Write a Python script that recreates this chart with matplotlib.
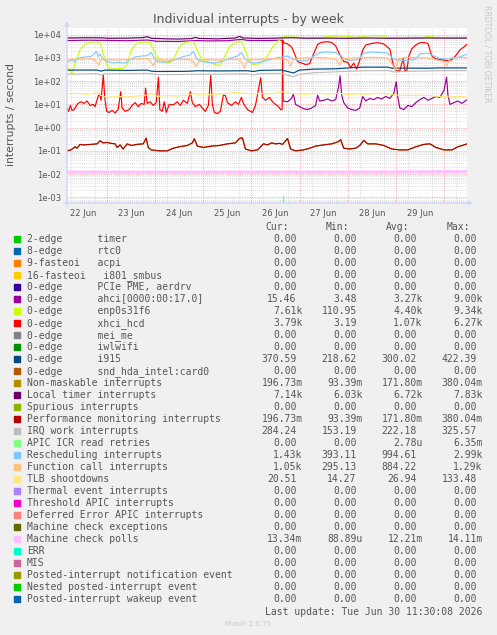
import numpy as np
import pandas as pd
import matplotlib
matplotlib.use("Agg")
import matplotlib.pyplot as plt
import matplotlib.dates as mdates
from matplotlib.patches import Rectangle
from matplotlib.ticker import LogLocator, FuncFormatter, NullFormatter

# time axis: hours after 2026-06-22 04:00
start = pd.Timestamp("2026-06-22 04:00")
end = pd.Timestamp("2026-06-30 11:30")

# ---- series (hour offset, value) ----
ahci_h = [0, 10, 20, 30, 40, 45, 55, 65, 70, 80, 87, 90, 100, 106, 107.4,
          107.8, 110, 112, 112.9, 114, 116, 118, 120, 122, 124, 125, 126, 128, 130, 132, 134,
          135.5, 136.2, 137, 138, 140, 142, 144, 146, 147.5, 149, 151, 153, 155, 157, 159, 161,
          163, 164.2, 165, 166, 168, 170, 172, 174, 176, 178, 180, 182, 184, 186, 188, 189.3,
          190, 191, 193, 195, 197, 199.3]
ahci_v = [5600, 5800, 5700, 5500, 5900, 5200, 5100, 5600, 5400, 5500, 6300, 5700, 5600, 5800, 5800,
          14, 13, 18, 28, 10, 8, 6.5, 6, 7, 9, 25, 14, 15, 17, 14, 16,
          60, 170, 25, 12, 7, 6, 5.5, 7, 22, 14, 18, 16, 20, 17, 22, 18,
          30, 95, 20, 7, 6, 9, 8, 12, 16, 20, 15, 18, 22, 20, 40, 150,
          25, 10, 12, 14, 11, 15.46]

enp_h = [0, 1.5, 2.5, 4, 6.5, 9, 12, 15, 16.5, 18, 19.8, 21.5, 25, 28, 30, 32, 34.7, 38, 41.4,
         43, 44.7, 48, 51, 53, 55, 57, 60, 63, 65, 67, 70, 74, 76, 78, 81, 84, 87, 89, 91, 93,
         96, 99, 101, 103, 105, 107, 109, 111, 113, 116, 120, 124, 128, 132, 136, 140, 143,
         146, 149, 153, 157, 160, 166, 172, 178, 181, 184, 190, 196, 199.3]
enp_v = [420, 300, 200, 600, 2200, 4000, 4700, 5000, 4400, 1600, 500, 330, 340, 360, 500, 2200,
         4300, 4900, 4600, 2400, 1100, 700, 620, 800, 2000, 3900, 4800, 5100, 2100, 900, 700,
         520, 450, 900, 3000, 4700, 5300, 2000, 700, 520, 560, 900, 1800, 3300, 5000, 7000,
         8700, 9300, 8000, 7400, 7300, 7500, 7600, 8700, 8900, 8600, 7600, 7800, 8900, 9200,
         8900, 7500, 7200, 7300, 7500, 8800, 7300, 7200, 7400, 7610]

xhci_h = [0, 0.8, 1.7, 2.5, 3.5, 5.5, 7, 8.5, 10, 11.5, 13, 14, 15.5, 16.3, 17, 18.1, 18.8,
          19.8, 21, 22.5, 24, 25.5, 26.8, 27.5, 29, 31, 32.5, 34, 35.5, 37, 38.5, 39.2, 40,
          41.5, 43, 44.5, 45.6, 46.3, 47.5, 48.5, 49.5, 51, 53, 55, 56.5, 58, 60, 61.5, 62.5,
          64, 66, 67.5, 69, 70.5, 71.7, 72.5, 73.5, 75, 76.5, 78, 79, 80, 82, 84, 85.5, 87,
          88, 90, 91.5, 92.5, 94, 96.6, 97.5, 99, 101, 102.5, 104, 105.5, 106.5, 107.3, 107.6,
          108, 110, 112, 113.5, 115, 117, 119, 121, 123, 125, 127, 130, 132, 134, 136, 138,
          140, 141.5, 143, 144.5, 146, 147.5, 149, 152, 155, 158, 161, 162.5, 164, 166,
          167.7, 168.5, 169.5, 170.5, 172, 174, 176, 178, 180, 182, 184, 186, 188, 190, 192,
          194, 196, 198, 199.3]
xhci_v = [7, 5, 9, 5.5, 6, 11, 13, 11, 14, 9, 10, 8, 22, 28, 15, 190, 20,
          5, 4.5, 5.5, 4.3, 6, 35, 7, 5, 6, 9, 12, 8, 11, 10, 50, 11,
          13, 9, 12, 150, 6, 5, 13, 4.5, 10, 9.5, 13, 9, 15, 11, 35, 12,
          8, 10, 7, 5, 9, 180, 10, 4.5, 4, 5, 25, 24, 12, 9, 13, 10, 20,
          11, 6, 5, 4.5, 9, 140, 20, 15, 20, 13, 10, 8, 6, 6, 5800,
          4500, 4000, 3000, 1500, 700, 600, 520, 560, 1500, 3800, 4700, 5000, 4600, 3300, 1400, 700,
          650, 380, 600, 330, 800, 2200, 3600, 4200, 4500, 4000, 2400, 600, 280, 280,
          1000, 280, 290, 1200, 2500, 3600, 4500, 4600, 4200, 1200, 900, 850, 800, 750, 850,
          1300, 2200, 3000, 3790]

i915_h = [0, 15, 17, 19, 30, 40, 42, 45, 60, 65, 75, 90, 93, 96, 107, 110, 113, 116, 123,
          134, 138, 142, 148, 160, 162, 170, 180, 185, 199.3]
i915_v = [300, 300, 270, 300, 290, 300, 270, 260, 265, 280, 275, 280, 260, 290, 300, 260, 225,
          300, 330, 340, 360, 380, 400, 400, 360, 365, 360, 372, 370.6]

perf_h = [0, 2, 4, 5, 6.5, 8, 12, 15, 16.5, 18, 20, 22, 24, 25, 26.5, 28, 30, 32, 35, 38, 39.5,
          40.5, 42, 46, 50, 53, 56, 60, 62.5, 63.5, 65, 68, 72, 76, 80, 84, 86, 87.5, 89, 92,
          95, 98, 100, 102, 104, 106, 107.5, 110, 111.5, 114, 118, 121, 124, 128, 132, 135,
          136.5, 138, 141, 144, 146, 148, 150, 154, 158, 162, 166, 170, 174, 178, 181, 184,
          188, 192, 195, 198, 199.3]
perf_v = [0.10, 0.11, 0.15, 0.13, 0.19, 0.18, 0.19, 0.2, 0.27, 0.22, 0.23, 0.21, 0.2, 0.14,
          0.18, 0.12, 0.2, 0.17, 0.19, 0.2, 0.35, 0.14, 0.11, 0.1, 0.1, 0.13, 0.15, 0.17, 0.22,
          0.33, 0.16, 0.14, 0.16, 0.17, 0.2, 0.22, 0.34, 0.36, 0.12, 0.1, 0.11, 0.2, 0.18, 0.22,
          0.2, 0.21, 0.19, 0.34, 0.12, 0.1, 0.11, 0.13, 0.16, 0.18, 0.2, 0.24, 0.3, 0.13, 0.12,
          0.13, 0.17, 0.28, 0.2, 0.2, 0.17, 0.12, 0.11, 0.11, 0.15, 0.19, 0.2, 0.14, 0.11,
          0.11, 0.15, 0.18, 0.197]

ltimer_h = [0, 10, 18, 20, 30, 38, 40, 42, 50, 56, 62, 64, 66, 75, 84, 86, 88, 96, 104, 108,
            112, 120, 130, 140, 150, 160, 170, 180, 190, 199.3]
ltimer_v = [7200, 7400, 7300, 7000, 7100, 7500, 8200, 7000, 6600, 6500, 6800, 7600, 6900, 6600,
            7200, 8400, 7200, 6900, 7100, 7300, 7400, 7000, 7100, 7000, 7200, 7000, 7100, 7200,
            7100, 7140]

irqwork_h = [0, 15, 17, 19, 40, 45, 60, 75, 90, 93, 96, 107, 110, 113, 116, 123, 138, 148,
             160, 163, 170, 185, 199.3]
irqwork_v = [200, 210, 185, 205, 215, 190, 195, 200, 205, 185, 210, 215, 180, 155, 200, 230,
             260, 280, 285, 250, 265, 280, 284]

apic_icr_h = [107.6]
apic_icr_v = [0.00125]

resched_h = [0, 2, 4, 6, 9, 12, 14.8, 15.5, 16.5, 18, 20, 23, 26, 29, 31, 34, 37, 40, 42, 43.5,
             45, 48, 51, 54, 58, 61, 63, 64.5, 66, 70, 74, 78, 82, 85, 87, 88.5, 91, 94, 98,
             102, 106, 110, 113, 116, 120, 123, 126, 130, 134, 136, 139, 142, 145, 148, 152,
             156, 160, 162.5, 165, 170, 174, 176, 180, 183, 186, 190, 194, 197, 199.3]
resched_v = [650, 800, 700, 1000, 1100, 1150, 1900, 1100, 1500, 900, 700, 620, 640, 600, 800,
             1100, 1200, 1250, 1700, 1000, 700, 650, 700, 850, 1150, 1300, 1900, 1000, 750,
             650, 600, 750, 1000, 1200, 1700, 1000, 650, 600, 700, 900, 1050, 1200, 900, 750,
             750, 1200, 1700, 1800, 1700, 1300, 850, 800, 850, 1600, 1800, 1700, 1600, 950,
             800, 780, 900, 1500, 1600, 1200, 950, 900, 1000, 1200, 1430]

fcall_h = [0, 3, 8, 12, 14.5, 16, 17, 20, 25, 30, 35, 40, 42, 43, 44.5, 50, 55, 60, 63, 64.5,
           66, 70, 75, 80, 85, 87.5, 88.5, 90, 95, 100, 105, 110, 111.5, 113, 118, 125, 130,
           134, 136, 137.5, 142, 148, 155, 160, 162.5, 164, 165.5, 170, 175, 180, 188, 189.5,
           191, 195, 199.3]
fcall_v = [800, 850, 900, 950, 700, 500, 900, 850, 800, 850, 900, 950, 650, 450, 850, 800,
           850, 900, 700, 420, 850, 850, 800, 850, 900, 600, 350, 800, 850, 900, 950, 800, 450,
           900, 1000, 1050, 1000, 900, 500, 950, 1000, 1050, 1050, 1000, 500, 295, 950, 1050,
           1050, 1000, 700, 450, 1000, 1050, 1050]

tlb_h = [0, 5, 10, 15, 17, 20, 25, 30, 35, 40, 42, 45, 50, 55, 60, 63, 66, 70, 75, 80, 84, 88,
         92, 96, 100, 104, 107.6, 110, 115, 120, 125, 130, 136, 140, 145, 150, 155, 160, 165,
         170, 175, 180, 185, 190, 195, 199.3]
tlb_v = [28, 30, 27, 32, 24, 20, 22, 21, 23, 25, 30, 22, 24, 23, 25, 30, 25, 26, 27, 30, 33,
         30, 28, 30, 28, 30, 35, 30, 28, 27, 30, 28, 30, 26, 28, 27, 30, 28, 25, 24, 25, 24,
         22, 21, 22, 20.5]

mcpoll_h = [0, 50, 100, 150, 199.3]
mcpoll_v = [0.0122, 0.0121, 0.0122, 0.0122, 0.0128]

# ---- legend table ----
leg_labels = ["2-edge      timer", "8-edge      rtc0", "9-fasteoi   acpi",
              "16-fasteoi   i801_smbus", "0-edge      PCIe PME, aerdrv",
              "0-edge      ahci[0000:00:17.0]", "0-edge      enp0s31f6", "0-edge      xhci_hcd",
              "0-edge      mei_me", "0-edge      iwlwifi", "0-edge      i915",
              "0-edge      snd_hda_intel:card0", "Non-maskable interrupts",
              "Local timer interrupts", "Spurious interrupts",
              "Performance monitoring interrupts", "IRQ work interrupts",
              "APIC ICR read retries", "Rescheduling interrupts", "Function call interrupts",
              "TLB shootdowns", "Thermal event interrupts", "Threshold APIC interrupts",
              "Deferred Error APIC interrupts", "Machine check exceptions",
              "Machine check polls", "ERR", "MIS", "Posted-interrupt notification event",
              "Nested posted-interrupt event", "Posted-interrupt wakeup event"]
leg_colors = ["#00CC00", "#0066B3", "#FF8000", "#FFCC00", "#330099", "#990099", "#CCFF00",
              "#FF0000", "#808080", "#008F00", "#00487D", "#B35A00", "#B38F00", "#6B006B",
              "#8FB300", "#B30000", "#BEBEBE", "#80FF80", "#80C9FF", "#FFC080", "#FFE680",
              "#AA80FF", "#EE00CC", "#FF8080", "#666600", "#FFBFFF", "#00FFCC", "#CC6699",
              "#999900", "#00CC00", "#0066B3"]
cur = ["0.00"] * 5 + ["15.46", "7.61k", "3.79k", "0.00", "0.00", "370.59", "0.00",
       "196.73m", "7.14k", "0.00", "196.73m", "284.24", "0.00", "1.43k", "1.05k", "20.51",
       "0.00", "0.00", "0.00", "0.00", "13.34m"] + ["0.00"] * 5
mins = ["0.00"] * 5 + ["3.48", "110.95", "3.19", "0.00", "0.00", "218.62", "0.00",
        "93.39m", "6.03k", "0.00", "93.39m", "153.19", "0.00", "393.11", "295.13", "14.27",
        "0.00", "0.00", "0.00", "0.00", "88.89u"] + ["0.00"] * 5
avgs = ["0.00"] * 5 + ["3.27k", "4.40k", "1.07k", "0.00", "0.00", "300.02", "0.00",
        "171.80m", "6.72k", "0.00", "171.80m", "222.18", "2.78u", "994.61", "884.22", "26.94",
        "0.00", "0.00", "0.00", "0.00", "12.21m"] + ["0.00"] * 5
maxs = ["0.00"] * 5 + ["9.00k", "9.34k", "6.27k", "0.00", "0.00", "422.39", "0.00",
        "380.04m", "7.83k", "0.00", "380.04m", "325.57", "6.35m", "2.99k", "1.29k", "133.48",
        "0.00", "0.00", "0.00", "0.00", "14.11m"] + ["0.00"] * 5

W, H = 497, 635
FONT = "#555555"


def fx(x):
    return x / W


def fy(y):
    return 1 - y / H


def ts(hours):
    return start + pd.to_timedelta(np.asarray(hours, dtype=float), unit="h")


fig = plt.figure(figsize=(W / 100, H / 100), dpi=100, facecolor="#F0F0F0")
ax = fig.add_axes([fx(67), fy(203), 400 / W, 175 / H])
ax.set_facecolor("white")
for s in ax.spines.values():
    s.set_visible(False)

ax.set_yscale("log")
ax.set_ylim(10 ** -3.245, 10 ** 4.288)
ax.set_xlim(start, end)

# draw in legend order (munin stacking order)
series = [
    (ahci_h, ahci_v, "#990099"),
    (enp_h, enp_v, "#CCFF00"),
    (xhci_h, xhci_v, "#FF0000"),
    (i915_h, i915_v, "#00487D"),
    (perf_h, perf_v, "#B38F00"),      # NMI, same values as perf
    (ltimer_h, ltimer_v, "#6B006B"),
    (perf_h, perf_v, "#B30000"),
    (irqwork_h, irqwork_v, "#BEBEBE"),
    (resched_h, resched_v, "#80C9FF"),
    (fcall_h, fcall_v, "#FFC080"),
    (tlb_h, tlb_v, "#FFE680"),
]
for hh, vv, c in series:
    ax.plot(ts(hh), vv, color=c, lw=0.85, zorder=3)
ax.vlines(ts(apic_icr_h), 10 ** -3.245, apic_icr_v, color="#80FF80", lw=1, zorder=3)
ax.plot(ts(mcpoll_h), mcpoll_v, color="#FFBFFF", lw=2.2, zorder=3)

# grid
dot = (0, (1, 1.5))
ax.yaxis.set_major_locator(LogLocator(base=10, numticks=20))
ax.yaxis.set_minor_locator(LogLocator(base=10, subs=np.arange(2, 10), numticks=20))
ax.yaxis.set_major_formatter(FuncFormatter(lambda v, p: f"{v:.0e}"))
ax.yaxis.set_minor_formatter(NullFormatter())
ax.yaxis.grid(True, which="major", color="#F0A0A0", linestyle=dot, lw=0.7)
ax.yaxis.grid(True, which="minor", color="#D4D4D4", linestyle=dot, lw=0.6)

ax.xaxis.set_major_locator(mdates.HourLocator(byhour=12))
ax.xaxis.set_major_formatter(mdates.DateFormatter("%d %b"))
ax.xaxis.set_minor_locator(mdates.HourLocator(byhour=[6, 12, 18]))
ax.xaxis.grid(True, which="minor", color="#D4D4D4", linestyle=dot, lw=0.6)
for d in mdates.DayLocator().tick_values(start, end):
    ax.axvline(d, color="#F0A0A0", linestyle=dot, lw=0.7, zorder=1)
ax.set_axisbelow(True)

ax.tick_params(which="both", length=0, labelsize=6, labelcolor=FONT)
ax.tick_params(axis="x", pad=4)
ax.tick_params(axis="y", pad=4)

# axes with arrows
arrow = dict(arrowstyle="-|>", color="#CFD6F8", lw=1, mutation_scale=6, shrinkA=0, shrinkB=0)
ax.annotate("", xy=(473 / W, fy(203)), xytext=(fx(64), fy(203)), xycoords="figure fraction",
            arrowprops=arrow)
ax.annotate("", xy=(fx(67), fy(21)), xytext=(fx(67), fy(206)), xycoords="figure fraction",
            arrowprops=arrow)

# texts
fig.text(fx(248), fy(19), "Individual interrupts - by week", ha="center", va="center",
         fontsize=9, color=FONT)
fig.text(fx(11), fy(115), "interrupts / second", rotation=90, ha="center", va="center",
         fontsize=7.8, color=FONT)
fig.text(fx(487), fy(5), "RRDTOOL / TOBI OETIKER", rotation=270, ha="center", va="top",
         fontsize=5.5, color="#C8C8C8")

mono = dict(family="DejaVu Sans Mono", fontsize=7, color=FONT, va="center")
cw = 5.85
for hdr, xr in zip(["Cur:", "Min:", "Avg:", "Max:"], [289, 349, 409, 470]):
    fig.text(fx(xr), fy(227), hdr, ha="right", **mono)

cols = [(cur, 302.5), (mins, 362.5), (avgs, 422.7), (maxs, 482.7)]
for i, (lab, col) in enumerate(zip(leg_labels, leg_colors)):
    y = 239.3 + 12 * i
    fig.patches.append(Rectangle((fx(14), fy(y + 3)), 6 / W, 6 / H, color=col,
                                 transform=fig.transFigure))
    fig.text(fx(26.7), fy(y), lab, ha="left", **mono)
    for vals, xr in cols:
        v = vals[i]
        off = 0 if v[-1] in "kmu" else cw
        fig.text(fx(xr - off), fy(y), v, ha="right", **mono)

fig.text(fx(482.7), fy(611.7), "Last update: Tue Jun 30 11:30:08 2026", ha="right", **mono)
fig.text(fx(247.7), fy(624), "Munin 2.0.75", ha="center", va="center", fontsize=5,
         color="#C8C8C8")

fig.savefig("out.png", dpi=100, facecolor=fig.get_facecolor())
